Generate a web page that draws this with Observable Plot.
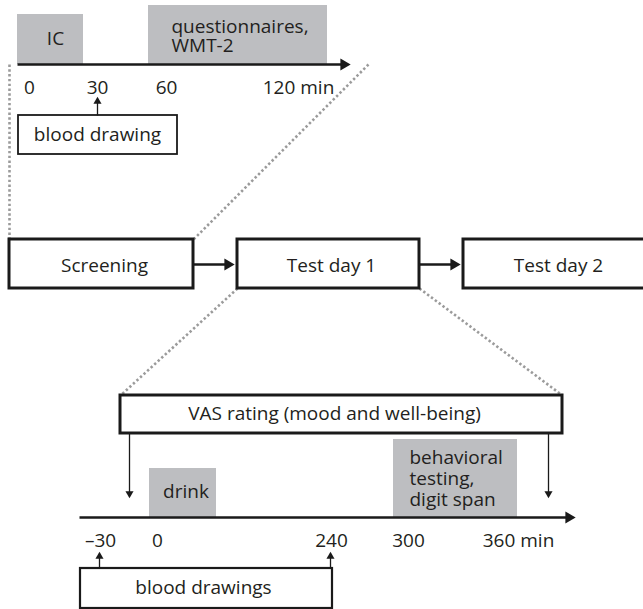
<!DOCTYPE html>
<html><head><meta charset="utf-8">
<script src="https://cdn.jsdelivr.net/npm/d3@7"></script>
<script src="https://cdn.jsdelivr.net/npm/@observablehq/plot@0.6"></script>
<style>body{margin:0;background:#fff}</style>
</head><body><div id="chart"></div>
<script>
// ---- content (labels and time points) ----
const stages = ["Screening", "Test day 1", "Test day 2"];
const screeningTicks = [0, 30, 60, 120];
const screeningTickLabels = ["0", "30", "60", "120 min"];
const screeningPhases = ["IC", "questionnaires,\nWMT-2"];
const screeningBloodTimes = [30];
const screeningBloodLabel = "blood drawing";
const testTicks = [-30, 0, 240, 300, 360];
const testTickLabels = ["–30", "0", "240", "300", "360 min"];
const testPhases = ["drink", "behavioral\ntesting,\ndigit span"];
const testBloodTimes = [-30, 240];
const testBloodLabel = "blood drawings";
const vasLabel = "VAS rating (mood and well-being)";

// ---- layout (diagram is not to scale) ----
const TXT = "#231f20", GRAY = "#bdbec1", DOT = "#9b9b9b";
const FS = 19, FF = "Open Sans";
const topAxis = {x1: 17, x2: 352, y: 64};
const topTickX = new Map([[0, 29], [30, 97], [60, 166], [120, 298]]);
const topTickY = 87.5;
const topPhaseLayout = [
  {x1: 17, x2: 83, y1: 14, y2: 64, tx: 55, ty: 38.5, anchor: "middle"},
  {x1: 148, x2: 327, y1: 5, y2: 64, tx: 171, ty: 36.2, anchor: "start"}
];
const topBloodBox = {x1: 18, x2: 177, y1: 115, y2: 154, tx: 97, ty: 134.5, arrowTip: 97};
const stageLayout = [
  {x1: 9, x2: 193, tx: 104}, {x1: 237, x2: 419, tx: 331}, {x1: 463, x2: 660, tx: 558}
];
const stageY = {y1: 239, y2: 288, ty: 265, arrowY: 264};
const dotted = [
  {x1: 9, y1: 64, x2: 9, y2: 239},
  {x1: 368, y1: 64, x2: 193, y2: 239},
  {x1: 237, y1: 288, x2: 120, y2: 395},
  {x1: 419, y1: 288, x2: 562, y2: 395}
];
const vasBox = {x1: 120, x2: 562, y1: 395, y2: 433, tx: 334, ty: 413.5, arrowX: [129, 548], arrowTip: 497};
const botAxis = {x1: 79, x2: 577, y: 517};
const botTickX = new Map([[-30, 100], [0, 157], [240, 331], [300, 408], [360, 518]]);
const botTickY = 540.5;
const botPhaseLayout = [
  {x1: 149, x2: 216, y1: 468, y2: 517, tx: 185.5, ty: 491, anchor: "middle", lh: 1.1},
  {x1: 393, x2: 517, y1: 439, y2: 517, tx: 409, ty: 478, anchor: "start", lh: 1.1}
];
const botBloodBox = {x1: 80, x2: 332, y1: 568, y2: 608, tx: 203, ty: 587.5, arrowTip: 552};
const botBloodX = new Map([[-30, 99], [240, 330]]);

// ---- build mark data ----
const boxes = [];      // outlined white boxes
const grayBoxes = [];
const texts = [];
const lines = [];
const heads = [];      // arrowheads: tip position, direction, size
const BIG = 13, SMALL = 6;  // arrowhead lengths
function arrow(x1, y1, x2, y2, len, w) {
  const dx = x2 - x1, dy = y2 - y1, d = Math.hypot(dx, dy);
  const ux = dx / d, uy = dy / d;
  lines.push({x1, y1, x2: x2 - ux * len * 0.8, y2: y2 - uy * len * 0.8, w});
  const c = len * 2 / 3;
  heads.push({x: x2 - ux * c, y: y2 - uy * c, rot: Math.atan2(dy, dx) * 180 / Math.PI + 90,
              r: Math.sqrt((len / 3) ** 2 * 3 * Math.sqrt(3) / Math.PI)});
}

// top timeline
arrow(topAxis.x1, topAxis.y, topAxis.x2, topAxis.y, BIG, 2.5);
screeningPhases.forEach((p, i) => {
  const L = topPhaseLayout[i];
  grayBoxes.push(L);
  texts.push({t: p, x: L.tx, y: L.ty, anchor: L.anchor, lh: 1});
});
screeningTicks.forEach((t, i) => texts.push({t: screeningTickLabels[i], x: topTickX.get(t), y: topTickY, anchor: "middle", lh: 1}));
boxes.push({...topBloodBox, w: 1.8});
texts.push({t: screeningBloodLabel, x: topBloodBox.tx, y: topBloodBox.ty, anchor: "middle", lh: 1});
screeningBloodTimes.forEach(t => arrow(topTickX.get(t), topBloodBox.y1, topTickX.get(t), topBloodBox.arrowTip, SMALL, 1.3));

// stages
stages.forEach((s, i) => {
  const L = stageLayout[i];
  boxes.push({x1: L.x1, x2: L.x2, y1: stageY.y1, y2: stageY.y2, w: 3});
  texts.push({t: s, x: L.tx, y: stageY.ty, anchor: "middle", lh: 1});
  if (i < stages.length - 1) arrow(L.x2, stageY.arrowY, stageLayout[i + 1].x1 - 1, stageY.arrowY, BIG, 2.5);
});

// bottom timeline
boxes.push({...vasBox, w: 3});
texts.push({t: vasLabel, x: vasBox.tx, y: vasBox.ty, anchor: "middle", lh: 1});
vasBox.arrowX.forEach(x => arrow(x, vasBox.y2, x, vasBox.arrowTip, SMALL, 1.3));
testPhases.forEach((p, i) => {
  const L = botPhaseLayout[i];
  grayBoxes.push(L);
  texts.push({t: p, x: L.tx, y: L.ty, anchor: L.anchor, lh: L.lh});
});
arrow(botAxis.x1, botAxis.y, botAxis.x2, botAxis.y, BIG, 2.5);
testTicks.forEach((t, i) => texts.push({t: testTickLabels[i], x: botTickX.get(t), y: botTickY, anchor: "middle", lh: 1}));
boxes.push({...botBloodBox, w: 2.2});
texts.push({t: testBloodLabel, x: botBloodBox.tx, y: botBloodBox.ty, anchor: "middle", lh: 1});
testBloodTimes.forEach(t => arrow(botBloodX.get(t), botBloodBox.y1, botBloodX.get(t), botBloodBox.arrowTip, SMALL, 1.3));

const textMarks = d3.groups(texts, d => d.anchor + "|" + d.lh).map(([k, arr]) =>
  Plot.text(arr, {x: "x", y: "y", text: "t", textAnchor: arr[0].anchor, lineHeight: arr[0].lh,
    fill: TXT, fontSize: FS, fontFamily: FF}));

const chart = Plot.plot({
  width: 643, height: 609, margin: 0,
  x: {type: "identity", axis: null},
  y: {type: "identity", axis: null},
  marks: [
    Plot.rect(grayBoxes, {x1: "x1", x2: "x2", y1: "y1", y2: "y2", fill: GRAY}),
    Plot.link(dotted, {x1: "x1", y1: "y1", x2: "x2", y2: "y2", stroke: DOT, strokeWidth: 2.6, strokeDasharray: "2.4 2.4"}),
    Plot.rect(boxes, {x1: "x1", x2: "x2", y1: "y1", y2: "y2", fill: "white", stroke: "#1a1a1a", strokeWidth: d => d.w}),
    Plot.link(lines, {x1: "x1", y1: "y1", x2: "x2", y2: "y2", stroke: "#1a1a1a", strokeWidth: d => d.w}),
    Plot.dot(heads, {x: "x", y: "y", r: "r", rotate: "rot", symbol: "triangle", fill: "#1a1a1a", stroke: "none"}),
    ...textMarks
  ]
});
document.getElementById("chart").appendChild(chart);
</script>
</body></html>
